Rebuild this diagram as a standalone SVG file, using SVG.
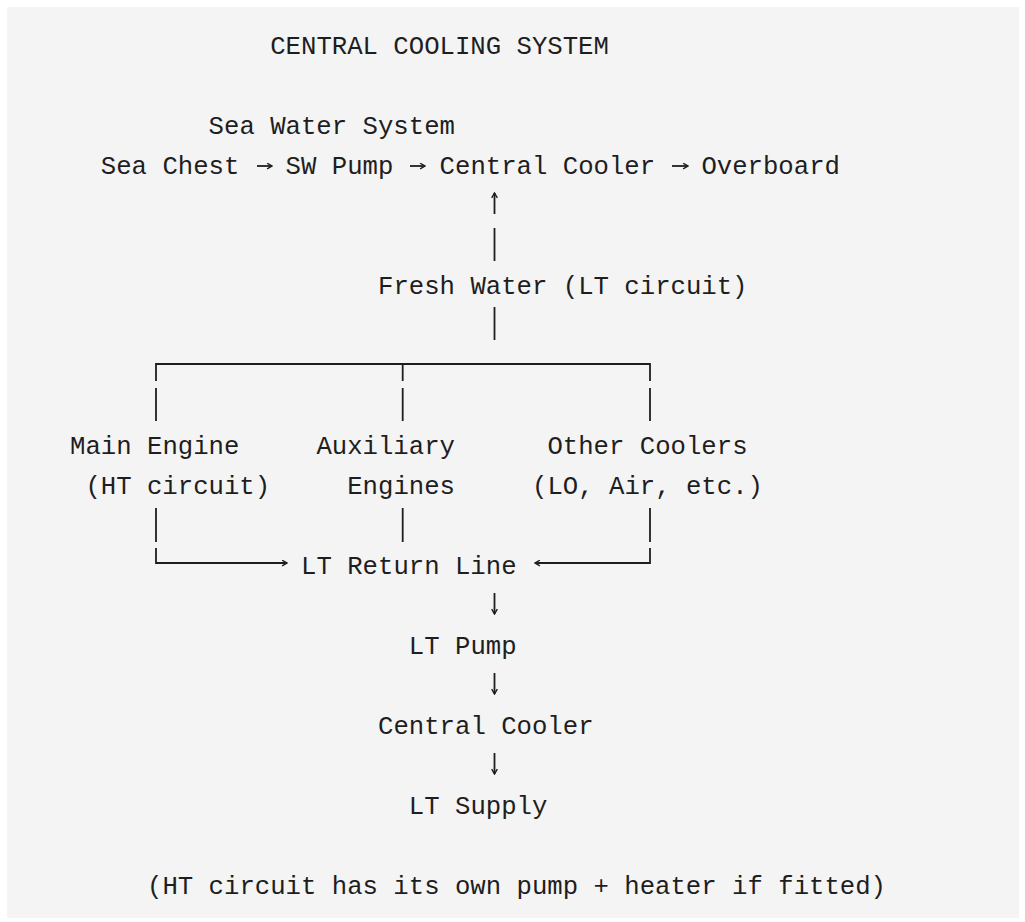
<svg xmlns="http://www.w3.org/2000/svg" width="1025" height="922" viewBox="0 0 1025 922">
<style>
  .t { font-family: "Liberation Mono", "DejaVu Sans Mono", monospace; font-size: 25.67px; fill: #1e1e1e; }
  .c { stroke: #1e1e1e; stroke-width: 1.8; fill: none; }
  .a { stroke: #1e1e1e; stroke-width: 1.8; fill: none; marker-end: url(#ah); }
</style>
<defs>
  <marker id="ah" viewBox="0 0 10 10" refX="9" refY="5" markerWidth="7" markerHeight="7" markerUnits="userSpaceOnUse" orient="auto">
    <path d="M2,1 L9,5 L2,9" fill="none" stroke="#1e1e1e" stroke-width="2"/>
  </marker>
</defs>
<rect x="0" y="0" width="1025" height="922" fill="#ffffff"/>
<rect x="7" y="7" width="1012" height="911" fill="#f4f4f4"/>

<g id="title"><text class="t" x="270.2" y="54">CENTRAL COOLING SYSTEM</text></g>
<g id="sea-water-system"><text class="t" x="208.6" y="134">Sea Water System</text></g>
<g id="sea-chest"><text class="t" x="100.8" y="174">Sea Chest</text></g>
<g id="sw-pump"><text class="t" x="285.6" y="174">SW Pump</text></g>
<g id="central-cooler-sw"><text class="t" x="439.6" y="174">Central Cooler</text></g>
<g id="overboard"><text class="t" x="701.4" y="174">Overboard</text></g>
<g id="fresh-water"><text class="t" x="378" y="294">Fresh Water (LT circuit)</text></g>
<g id="main-engine">
  <text class="t" x="70" y="454">Main Engine</text>
  <text class="t" x="85.4" y="494">(HT circuit)</text>
</g>
<g id="aux-engines">
  <text class="t" x="316.4" y="454">Auxiliary</text>
  <text class="t" x="347.2" y="494">Engines</text>
</g>
<g id="other-coolers">
  <text class="t" x="547.4" y="454">Other Coolers</text>
  <text class="t" x="532" y="494">(LO, Air, etc.)</text>
</g>
<g id="lt-return"><text class="t" x="301" y="574">LT Return Line</text></g>
<g id="lt-pump"><text class="t" x="408.8" y="654">LT Pump</text></g>
<g id="central-cooler-lt"><text class="t" x="378" y="734">Central Cooler</text></g>
<g id="lt-supply"><text class="t" x="408.8" y="814">LT Supply</text></g>
<g id="note"><text class="t" x="147" y="894">(HT circuit has its own pump + heater if fitted)</text></g>

<g id="connectors">
  <path class="a" d="M257 166 H272"/>
  <path class="a" d="M410 166 H425"/>
  <path class="a" d="M672 166 H688"/>
  <path class="a" d="M494.5 214 V193"/>
  <path class="c" d="M494.5 228 V261"/>
  <path class="c" d="M494.5 307 V340"/>
  <path class="c" d="M156 381 V364 H650 V381"/>
  <path class="c" d="M402.7 364 V381"/>
  <path class="c" d="M156 388 V421 M402.7 388 V421 M650 388 V421"/>
  <path class="c" d="M156 508 V542 M402.7 508 V542 M650 508 V542"/>
  <path class="a" d="M156 548 V563 H287"/>
  <path class="a" d="M650 548 V563 H535"/>
  <path class="a" d="M494.5 593 V614"/>
  <path class="a" d="M494.5 673 V694"/>
  <path class="a" d="M494.5 753 V774"/>
</g>
</svg>
